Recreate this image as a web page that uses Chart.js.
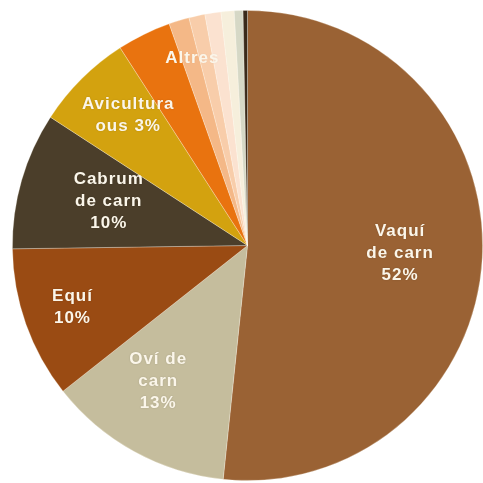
<!DOCTYPE html>
<html>
<head>
<meta charset="utf-8">
<script src="https://cdn.jsdelivr.net/npm/chart.js@4/dist/chart.umd.min.js"></script>
<style>
  html, body { margin: 0; padding: 0; background: #ffffff; }
  #wrap { width: 483px; height: 483px; }
</style>
</head>
<body>
<div id="wrap"><canvas id="pieChart"></canvas></div>
<script>
// ================================
// DATA
// ================================
const categories = [
    "Vaquí de carn", "Oví de carn", "Equí", "Cabrum de carn", "Avicultura ous",
    "Altres 1", "Altres 2", "Altres 3", "Altres 4", "Altres 5", "Altres 6", "Altres 7"
];
const shares = [51.6, 12.7, 10.4, 9.4, 6.7, 3.7, 1.4, 1.1, 1.1, 0.9, 0.6, 0.3];

// label text drawn on the pie (slice index -> lines)
const labelSlices = [0, 1, 2, 3, 4];
const labelLines = [
    ["Vaquí", "de carn", "52%"],
    ["Oví de", "carn", "13%"],
    ["Equí", "10%"],
    ["Cabrum", "de carn", "10%"],
    ["Avicultura", "ous 3%"]
];
const otherLabel = "Altres";
const otherFrom = 5;   // first slice grouped as "Altres"

// ================================
// STYLE
// ================================
const sliceColors = [
    "#9a6234", "#c5bd9d", "#9a4b13", "#4b3e2a", "#d3a20f",
    "#e9730f", "#f4b887", "#f8cdaa", "#fbe2d0", "#f6efdc", "#d6d8c6", "#3a2a1a"
];
const labelRadius = [0.65, 0.69, 0.79, 0.62, 0.75];
const labelAngleShift = [0, 0.08, 0, 0.03, 0.04];
const otherRadius = 0.83;

// ================================
// LABEL PLUGIN
// ================================
const sliceLabels = {
    id: "sliceLabels",
    afterDatasetsDraw(chart) {
        const ctx = chart.ctx;
        const arcs = chart.getDatasetMeta(0).data;
        ctx.save();
        ctx.font = "bold 17px 'Liberation Sans', Arial, sans-serif";
        ctx.letterSpacing = "1px";
        ctx.textAlign = "center";
        ctx.textBaseline = "middle";
        ctx.fillStyle = "#fbf6ea";
        ctx.shadowColor = "rgba(0,0,0,0.15)";
        ctx.shadowBlur = 2;

        const drawAt = (cx, cy, lines) => {
            const lh = 22;
            const top = cy - (lines.length - 1) * lh / 2;
            lines.forEach((t, i) => ctx.fillText(t, cx, top + i * lh));
        };

        labelSlices.forEach((idx, i) => {
            const a = arcs[idx];
            const mid = (a.startAngle + a.endAngle) / 2 + labelAngleShift[i];
            const r = a.outerRadius * labelRadius[i];
            drawAt(a.x + Math.cos(mid) * r, a.y + Math.sin(mid) * r, labelLines[i]);
        });

        const first = arcs[otherFrom];
        const last = arcs[arcs.length - 1];
        const mid = (first.startAngle + last.endAngle) / 2;
        const r = first.outerRadius * otherRadius;
        ctx.shadowColor = "rgba(0,0,0,0.05)";
        drawAt(first.x + Math.cos(mid) * r, first.y + Math.sin(mid) * r, [otherLabel]);
        ctx.restore();
    }
};

// ================================
// CREATE CHART
// ================================
new Chart(document.getElementById("pieChart"), {
    type: "pie",
    data: {
        labels: categories,
        datasets: [{
            data: shares,
            backgroundColor: sliceColors,
            borderColor: "rgba(255,250,240,0.35)",
            borderWidth: 0.8
        }]
    },
    options: {
        responsive: true,
        maintainAspectRatio: false,
        animation: false,
        layout: { padding: { left: 12, right: 0, top: 9, bottom: 1 } },
        plugins: {
            legend: { display: false },
            tooltip: { enabled: false }
        }
    },
    plugins: [sliceLabels]
});
</script>
</body>
</html>
